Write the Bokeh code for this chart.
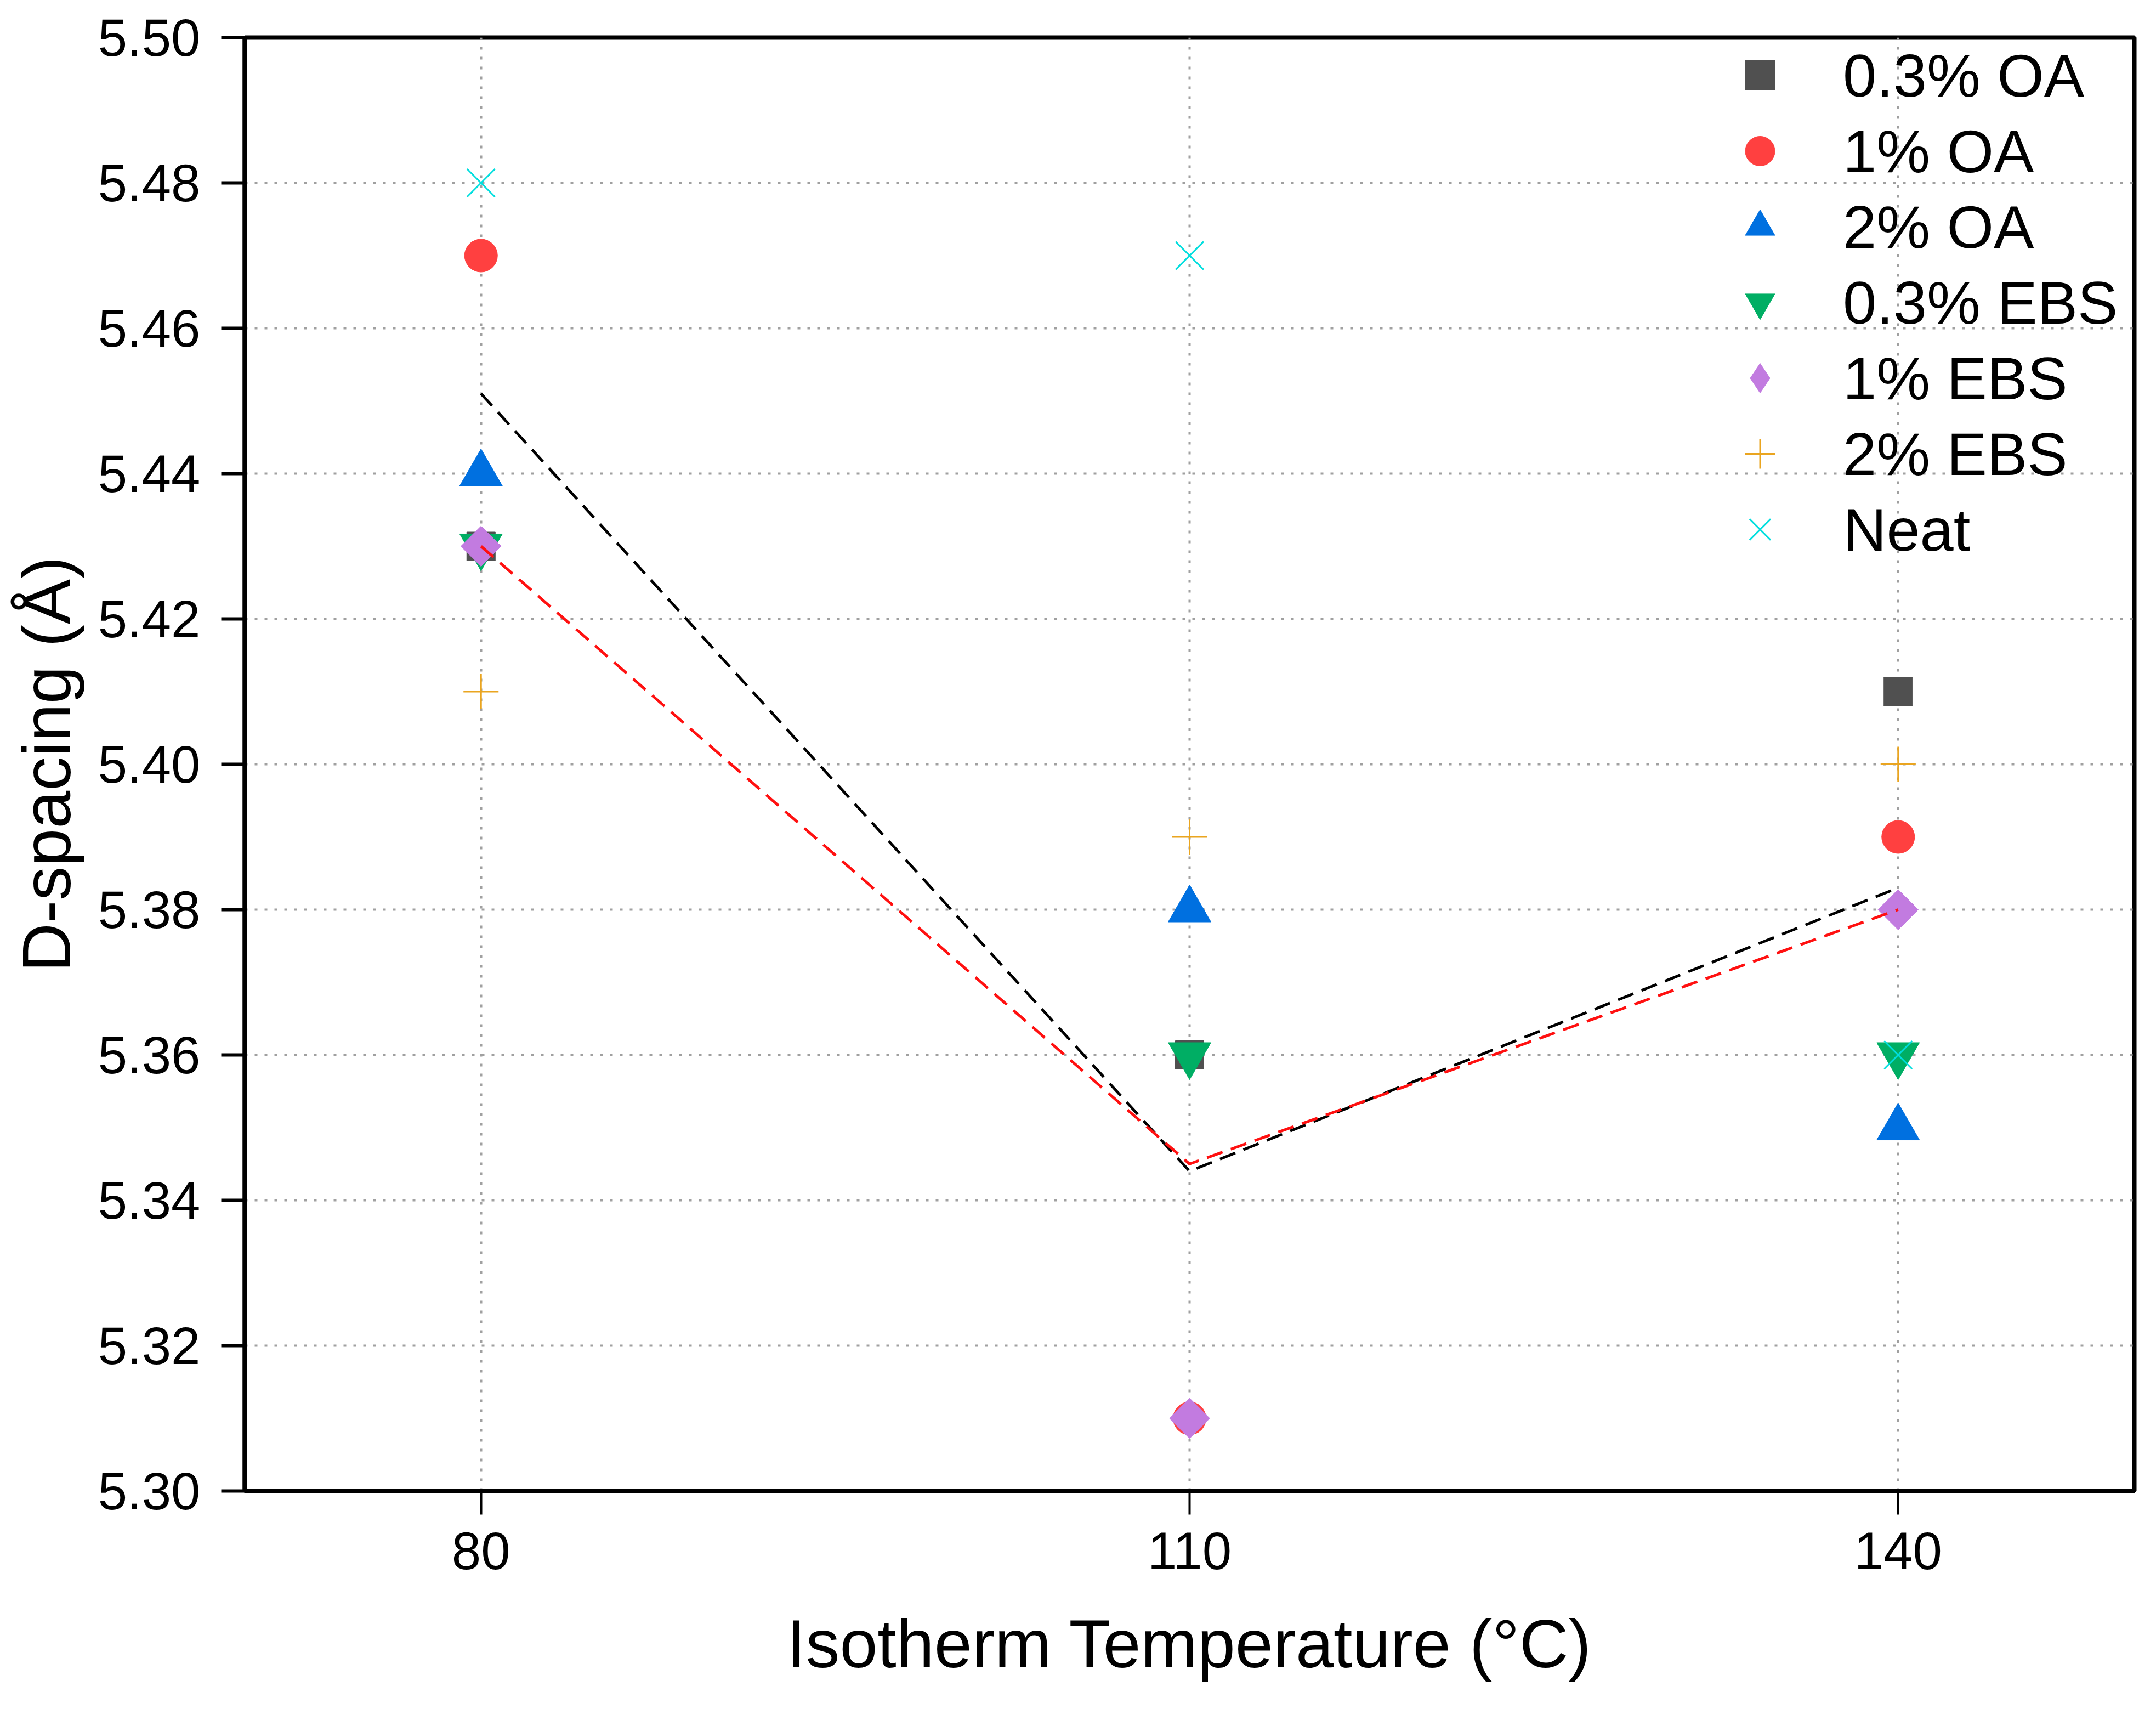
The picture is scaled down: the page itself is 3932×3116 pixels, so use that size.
from bokeh.plotting import figure
from bokeh.models import FixedTicker, NumeralTickFormatter, Legend, LegendItem, Range1d
from bokeh.embed import file_html
from bokeh.resources import INLINE
import numpy as np

# Isotherm temperatures (deg C)
temps = [80, 110, 140]

# D-spacing (Angstrom) per sample
oa_03 = [5.43, 5.36, 5.41]
oa_1 = [5.47, 5.31, 5.39]
oa_2 = [5.44, 5.38, 5.35]
ebs_03 = [5.43, 5.36, 5.36]
ebs_1 = [5.43, 5.31, 5.38]
ebs_2 = [5.41, 5.39, 5.40]
neat = [5.48, 5.47, 5.36]

# dashed trend lines
trend_black = [5.451, 5.344, 5.383]
trend_red = [5.430, 5.345, 5.380]

y_ticks = [5.30, 5.32, 5.34, 5.36, 5.38, 5.40, 5.42, 5.44, 5.46, 5.48, 5.50]
x_ticks = [80, 110, 140]

FONT = "Liberation Sans"

p = figure(frame_width=3446, frame_height=2650,
           min_border_left=446, min_border_top=68, min_border_right=24, min_border_bottom=382,
           x_range=Range1d(70, 150), y_range=Range1d(5.30, 5.50),
           output_backend="svg", toolbar_location=None,
           x_axis_label="Isotherm Temperature (°C)", y_axis_label="D-spacing (Å)")

p.background_fill_color = "white"
p.outline_line_color = "black"
p.outline_line_width = 8
p.outline_line_alpha = 1.0

# axes
p.xaxis.ticker = FixedTicker(ticks=x_ticks)
p.yaxis.ticker = FixedTicker(ticks=y_ticks)
p.yaxis.formatter = NumeralTickFormatter(format="0.00")
for ax in (p.xaxis, p.yaxis):
    ax.axis_line_width = 8
    ax.axis_line_color = "black"
    ax.major_tick_line_color = "black"
    ax.major_tick_in = 0
    ax.major_tick_out = 43
    ax.minor_tick_line_color = None
    ax.major_label_text_font = FONT
    ax.major_label_text_font_size = "96px"
    ax.major_label_text_color = "black"
    ax.axis_label_text_font = FONT
    ax.axis_label_text_font_size = "124px"
    ax.axis_label_text_font_style = "normal"
    ax.axis_label_text_color = "black"
p.yaxis.major_tick_line_width = 6
p.xaxis.major_tick_line_width = 4
p.yaxis.major_label_standoff = 38
p.xaxis.major_label_standoff = 32
p.yaxis.axis_label_standoff = 22
p.xaxis.axis_label_standoff = 64

# dotted grid
for g in (p.xgrid, p.ygrid):
    g.grid_line_color = "#a0a0a0"
    g.grid_line_dash = "5 13"
    g.grid_line_width = 4

PURPLE = "#c27be0"

r_sq = p.scatter(temps, oa_03, marker="square", size=52, color="#505050")
r_ci = p.scatter(temps, oa_1, marker="circle", size=60, color="#ff4040")
r_tr = p.scatter(temps, oa_2, marker="triangle", size=78, color="#0070e0")
r_it = p.scatter(temps, ebs_03, marker="inverted_triangle", size=78, color="#00ae64")
r_di = p.scatter(temps, ebs_1, marker="square", size=52, angle=np.pi / 4, color=PURPLE)
r_pl = p.scatter(temps, ebs_2, marker="cross", size=64, line_color="#eaa520", line_width=3)
r_x = p.scatter(temps, neat, marker="x", size=72, line_color="#00dede", line_width=3)

# hidden twin of the 1% EBS series, only used to draw a diamond in the legend
r_di_key = p.scatter(temps, ebs_1, marker="diamond", size=80, color=PURPLE, visible=False)

p.line(temps, trend_black, line_color="black", line_width=5, line_dash="30 16")
p.line(temps, trend_red, line_color="#ff1010", line_width=5, line_dash="30 16")

legend = Legend(items=[
    LegendItem(label="0.3% OA", renderers=[r_sq]),
    LegendItem(label="1% OA", renderers=[r_ci]),
    LegendItem(label="2% OA", renderers=[r_tr]),
    LegendItem(label="0.3% EBS", renderers=[r_it]),
    LegendItem(label="1% EBS", renderers=[r_di_key]),
    LegendItem(label="2% EBS", renderers=[r_pl]),
    LegendItem(label="Neat", renderers=[r_x]),
], location=(2696, 1684))
legend.click_policy = "none"
legend.background_fill_alpha = 0
legend.border_line_alpha = 0
legend.margin = 0
legend.padding = 0
legend.spacing = 0
legend.glyph_width = 135
legend.glyph_height = 138
legend.label_height = 100
legend.label_standoff = 84
legend.label_text_font = FONT
legend.label_text_font_size = "110px"
legend.label_text_color = "black"
legend.label_text_baseline = "middle"
p.add_layout(legend)

open("out.html", "w").write(file_html(p, INLINE))
